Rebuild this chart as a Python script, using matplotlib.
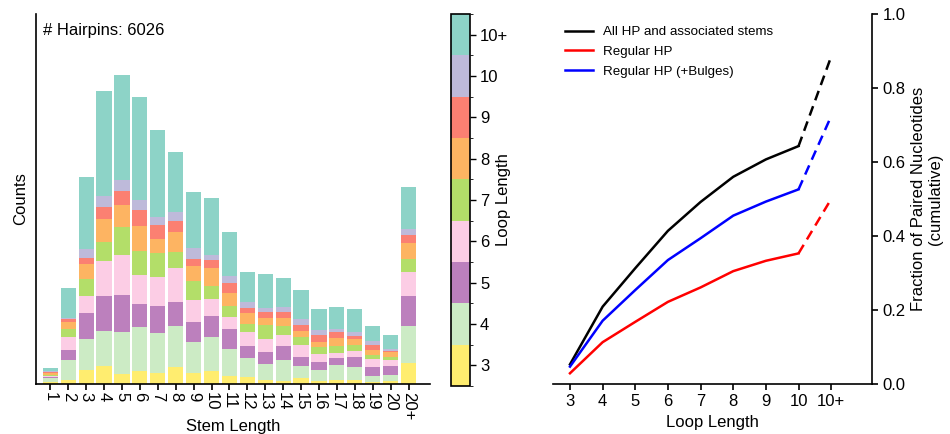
import numpy as np
import matplotlib
matplotlib.use("Agg")
import matplotlib.pyplot as plt
from matplotlib.colors import ListedColormap, BoundaryNorm
import matplotlib as mpl

plt.rcParams['font.family'] = ['Liberation Sans', 'DejaVu Sans']

# ---------------- data ----------------
stem_labels = [str(i) for i in range(1, 21)] + ['20+']
loop_labels = ['3', '4', '5', '6', '7', '8', '9', '10', '10+']
loop_colors = ['#ffed6f', '#ccebc5', '#bc80bd', '#fccde5', '#b3de69',
               '#fdb462', '#fb8072', '#bebada', '#8dd3c7']

# counts per stem length (rows) for loop lengths 3,4,5,6,7,8,9,10,10+
counts = [
    [3, 8, 2, 3, 2, 2, 2, 2, 6],
    [8, 38, 19, 25, 15, 13, 6, 1, 58],
    [27, 59, 48, 33, 32, 29, 11, 17, 137],
    [34, 67, 67, 65, 37, 43, 23, 21, 199],
    [19, 80, 70, 76, 54, 41, 27, 21, 200],
    [25, 83, 44, 55, 46, 47, 30, 19, 196],
    [21, 75, 53, 55, 44, 28, 27, 15, 165],
    [33, 77, 46, 65, 29, 38, 22, 17, 114],
    [21, 58, 38, 42, 37, 29, 13, 20, 106],
    [25, 64, 40, 32, 25, 34, 15, 11, 108],
    [15, 51, 38, 23, 21, 25, 19, 13, 84],
    [13, 36, 23, 27, 15, 21, 10, 11, 57],
    [8, 30, 23, 25, 27, 13, 10, 8, 65],
    [6, 40, 27, 21, 17, 15, 10, 10, 55],
    [11, 23, 17, 23, 16, 11, 11, 11, 55],
    [6, 21, 15, 15, 14, 9, 13, 9, 40],
    [8, 29, 13, 8, 15, 15, 11, 6, 42],
    [8, 25, 19, 11, 11, 11, 6, 8, 44],
    [4, 11, 17, 15, 8, 9, 11, 6, 29],
    [5, 13, 16, 11, 6, 10, 2, 3, 28],
    [40, 70, 57, 46, 25, 30, 15, 11, 81],
]
n_hairpins = 6026

frac_all = [0.053, 0.209, 0.313, 0.414, 0.492, 0.560, 0.607, 0.643, 0.885]
frac_regular = [0.029, 0.113, 0.168, 0.222, 0.261, 0.305, 0.333, 0.353, 0.500]
frac_bulges = [0.047, 0.171, 0.254, 0.335, 0.394, 0.455, 0.493, 0.526, 0.724]

FS = 12

# ---------------- figure ----------------
fig = plt.figure(figsize=(9.5, 4.34), dpi=100)

ax1 = fig.add_axes([36/950, 50/434, 394/950, 370/434])
arr = np.array(counts, dtype=float)
x = np.arange(len(stem_labels))
bottom = np.zeros(len(stem_labels))
for j in range(len(loop_labels)):
    ax1.bar(x, arr[:, j], bottom=bottom, width=0.85, color=loop_colors[j],
            linewidth=0)
    bottom += arr[:, j]
ax1.set_xlim(-0.8, 21.2)
ax1.set_ylim(0, 703)
ax1.set_xticks(x)
ax1.set_xticklabels(stem_labels, rotation=-90, fontsize=FS)
ax1.set_yticks([])
ax1.spines['top'].set_visible(False)
ax1.spines['right'].set_visible(False)
ax1.spines['left'].set_linewidth(1.2)
ax1.spines['bottom'].set_linewidth(1.2)
ax1.tick_params(axis='x', length=4, width=1.2, pad=2)
ax1.set_xlabel('Stem Length', fontsize=FS, labelpad=-1)
ax1.set_ylabel('Counts', fontsize=FS, labelpad=6)
ax1.text(0.018, 0.975, f'# Hairpins: {n_hairpins}', transform=ax1.transAxes,
         fontsize=FS, va='top', ha='left')

# colorbar
cax = fig.add_axes([451/950, 48/434, 18.5/950, 372/434])
cmap = ListedColormap(loop_colors)
norm = BoundaryNorm(np.arange(-0.5, len(loop_labels) + 0.5, 1), cmap.N)
cb = mpl.colorbar.ColorbarBase(cax, cmap=cmap, norm=norm,
                               ticks=np.arange(len(loop_labels)))
cb.set_ticklabels(loop_labels)
cb.ax.tick_params(labelsize=FS, length=4, width=1.0)
cb.outline.set_linewidth(1.2)
cb.set_label('Loop Length', fontsize=FS)
cb.ax.yaxis.set_label_coords(2.45, 0.5)

# right plot
ax2 = fig.add_axes([553/950, 50/434, 319/950, 370/434])
xi = np.arange(len(loop_labels))
series = [(frac_all, 'black', 'All HP and associated stems'),
          (frac_regular, 'red', 'Regular HP'),
          (frac_bulges, 'blue', 'Regular HP (+Bulges)')]
for vals, c, lab in series:
    ax2.plot(xi[:-1], vals[:-1], color=c, lw=1.8, label=lab)
    ax2.plot(xi[-2:], vals[-2:], color=c, lw=1.8, ls=(0, (4, 2.5)))
ax2.set_xlim(-0.52, 9.25)
ax2.set_ylim(0, 1.0)
ax2.set_xticks(xi)
ax2.set_xticklabels(loop_labels, fontsize=FS)
ax2.set_yticks(np.arange(0, 1.01, 0.2))
ax2.set_yticklabels([f'{v:.1f}' for v in np.arange(0, 1.01, 0.2)], fontsize=FS)
ax2.yaxis.tick_right()
ax2.yaxis.set_label_position('right')
ax2.spines['top'].set_visible(False)
ax2.spines['left'].set_visible(False)
ax2.spines['right'].set_linewidth(1.2)
ax2.spines['bottom'].set_linewidth(1.2)
ax2.tick_params(length=4, width=1.2)
ax2.set_xlabel('Loop Length', fontsize=FS, labelpad=4)
ax2.set_ylabel('Fraction of Paired Nucleotides\n(cumulative)', fontsize=FS,
               labelpad=4)
ax2.legend(loc='upper left', bbox_to_anchor=(0.0, 1.0), frameon=False,
           fontsize=9.6, handlelength=2.1, handletextpad=0.75,
           labelspacing=0.55, borderaxespad=0.5)

fig.savefig('out.png', dpi=100)
